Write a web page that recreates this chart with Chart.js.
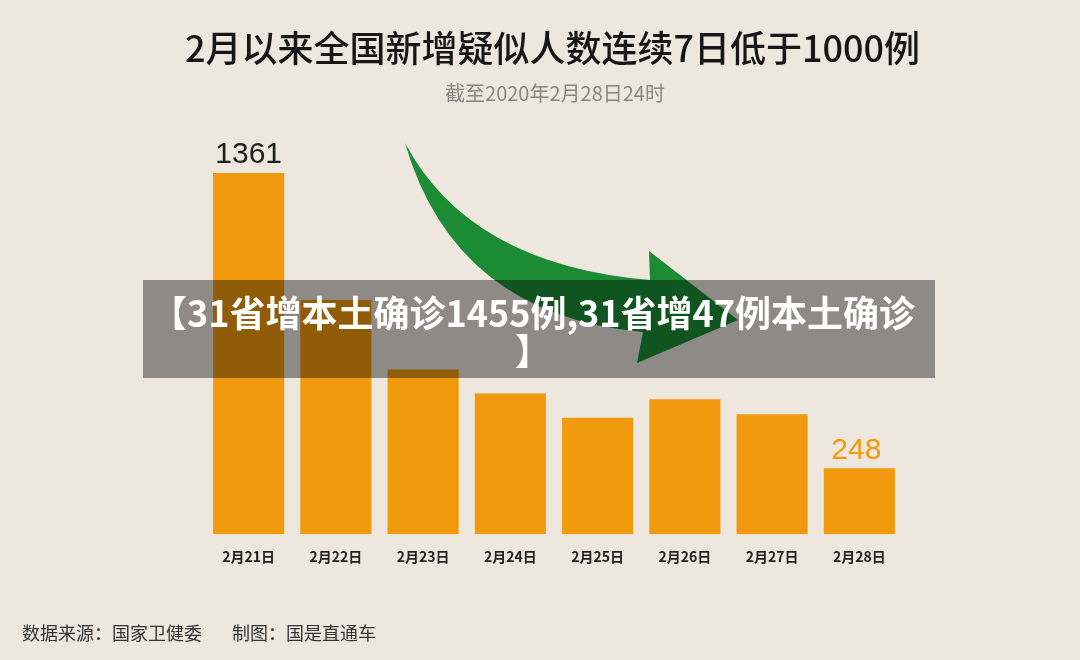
<!DOCTYPE html>
<html>
<head>
<meta charset="utf-8">
<script src="https://cdn.jsdelivr.net/npm/chart.js@4"></script>
<style>
  body { margin: 0; background: #ede7de; }
  #wrap { position: relative; width: 1080px; height: 660px; overflow: hidden; background: #ede7de; font-family: "Noto Sans CJK SC", sans-serif; }
  #myChart { position: absolute; left: 0; top: 0; }
  .title { position: absolute; left: 0; width: 1105px; top: 27px; text-align: center; font-size: 36px; line-height: 38px; font-weight: 500; color: #161616; }
  .sub { position: absolute; left: 0; width: 1110px; top: 81px; text-align: center; font-size: 20px; line-height: 24px; color: #8a8580; }
  .foot { position: absolute; left: 22px; top: 621px; font-size: 18px; line-height: 22px; color: #333; }
  .foot span + span { margin-left: 30px; }
  .banner { position: absolute; left: 143px; top: 280px; width: 792px; height: 98px; background: rgba(0, 0, 0, 0.4); color: #fff; text-align: center; font-size: 36px; font-weight: 700; line-height: 38px; padding: 12px 12px 0 0; box-sizing: border-box; }
</style>
</head>
<body>
<div id="wrap">
  <canvas id="myChart" width="1080" height="660"></canvas>
  <div class="title">2月以来全国新增疑似人数连续7日低于1000例</div>
  <div class="sub">截至2020年2月28日24时</div>
  <div class="foot"><span>数据来源：国家卫健委</span><span>制图：国是直通车</span></div>
  <div class="banner">【31省增本土确诊1455例,31省增47例本土确诊<br>】</div>
</div>
<script>
const days = ["2月21日", "2月22日", "2月23日", "2月24日", "2月25日", "2月26日", "2月27日", "2月28日"];
const suspected = [1361, 882, 620, 530, 439, 508, 452, 248];
// only the first and last bars carry a number
const valueLabels = ["1361", "", "", "", "", "", "", "248"];
const valueColors = ["#1e1e1e", "", "", "", "", "", "", "#f29a0e"];

const barColor = "#f29a0e";

// green curved arrow in the background
const arrowPlugin = {
  id: "arrow",
  beforeDatasetsDraw(chart) {
    const c = chart.ctx;
    c.save();
    c.fillStyle = "#1b8c34";
    c.beginPath();
    c.moveTo(405, 143);
    c.quadraticCurveTo(470, 265, 650, 280);
    c.lineTo(649, 251);
    c.lineTo(738, 320);
    c.lineTo(637, 363);
    c.lineTo(643, 332);
    c.quadraticCurveTo(455, 315, 405, 143);
    c.closePath();
    c.fill();
    c.restore();
  }
};

const valuePlugin = {
  id: "values",
  afterDatasetsDraw(chart) {
    const c = chart.ctx;
    const meta = chart.getDatasetMeta(0);
    c.save();
    c.font = "30px 'Liberation Sans', sans-serif";
    c.textAlign = "center";
    c.textBaseline = "bottom";
    meta.data.forEach((bar, i) => {
      if (!valueLabels[i]) return;
      c.fillStyle = valueColors[i];
      c.fillText(valueLabels[i], bar.x - (i === 0 ? 0 : 3), bar.y - 3);
    });
    c.restore();
  }
};

const ctx = document.getElementById("myChart").getContext("2d");
const myChart = new Chart(ctx, {
  type: "bar",
  data: {
    labels: days,
    datasets: [{
      label: "新增疑似",
      data: suspected,
      backgroundColor: barColor,
      borderWidth: 0,
      categoryPercentage: 1,
      barPercentage: 0.815
    }]
  },
  options: {
    responsive: false,
    devicePixelRatio: 1,
    animation: false,
    layout: { padding: { left: 205, right: 177, top: 136, bottom: 81 } },
    plugins: { legend: { display: false }, tooltip: { enabled: false } },
    scales: {
      x: {
        grid: { display: false, drawTicks: false },
        border: { display: false },
        ticks: {
          padding: 14,
          color: "#222",
          font: { family: "'Noto Sans CJK SC', sans-serif", size: 14, weight: "bold" }
        }
      },
      y: {
        display: false,
        min: 0,
        max: 1500
      }
    }
  },
  plugins: [arrowPlugin, valuePlugin]
});
</script>
</body>
</html>
